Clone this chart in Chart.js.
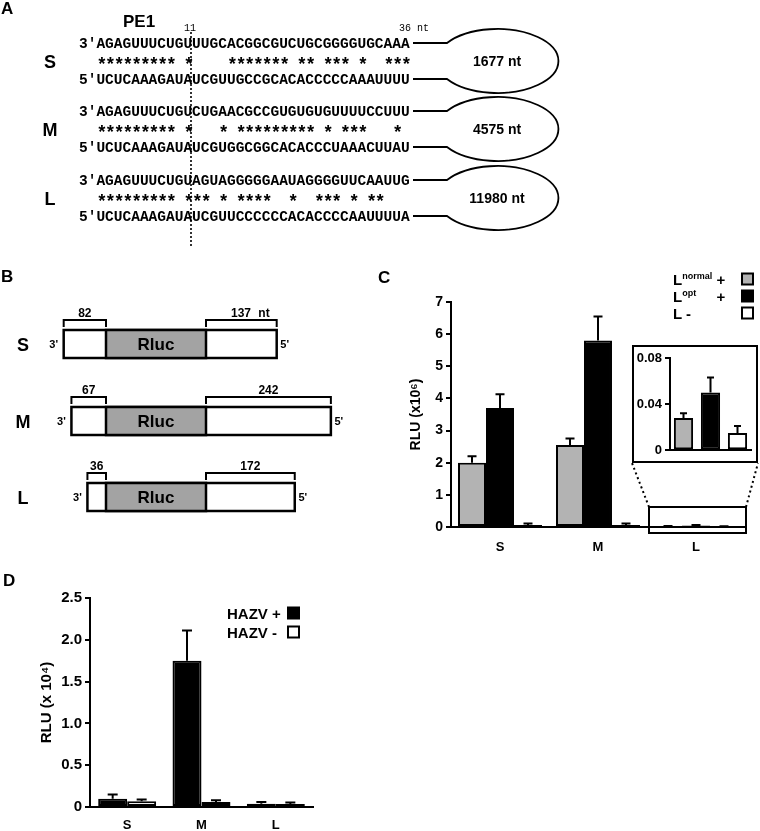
<!DOCTYPE html>
<html>
<head>
<meta charset="utf-8">
<script src="https://cdn.jsdelivr.net/npm/chart.js@4.4.1/dist/chart.umd.min.js"></script>
<style>
  body { margin: 0; background: #fff; }
  #page { position: relative; width: 760px; height: 831px; overflow: hidden; }
  canvas, #inset, #overlay { position: absolute; }
  #mainC { left: 370px; top: 260px; z-index: 1; }
  #inset { left: 632px; top: 345px; width: 126px; height: 118px; box-sizing: border-box;
           border: 2px solid #000; background: #fff; z-index: 2; }
  #inset canvas { left: 0; top: 0; }
  #chartD { left: 0; top: 575px; z-index: 1; }
  #overlay { left: 0; top: 0; z-index: 3; pointer-events: none; }
  #overlay text { font-family: "Liberation Sans", Arial, sans-serif; font-weight: bold; fill: #000; }
  #overlay .mono { font-family: "Liberation Mono", monospace; font-size: 14.5px; white-space: pre; }
  #overlay .stars { font-family: "Liberation Mono", monospace; font-size: 18px; letter-spacing: -2.1px; white-space: pre; }
  #overlay .small { font-family: "Liberation Mono", monospace; font-weight: normal; font-size: 10px; }
</style>
</head>
<body>
<div id="page">
  <canvas id="mainC" width="390" height="310"></canvas>
  <div id="inset"><canvas id="insetC" width="122" height="114"></canvas></div>
  <canvas id="chartD" width="360" height="256"></canvas>
  <svg id="overlay" width="760" height="831"></svg>
</div>
<script>
// Panel A: terminal sequences of the three segments
const segments = ["S", "M", "L"];
const strand3 = [
    "AGAGUUUCUGUUUGCACGGCGUCUGCGGGGUGCAAA",
    "AGAGUUUCUGUCUGAACGCCGUGUGUGUUUUCCUUU",
    "AGAGUUUCUGUAGUAGGGGGAAUAGGGGUUCAAUUG"
];
const strand5 = [
    "UCUCAAAGAUAUCGUUGCCGCACACCCCCAAAUUUU",
    "UCUCAAAGAUAUCGUGGCGGCACACCCUAAACUUAU",
    "UCUCAAAGAUAUCGUUCCCCCCACACCCCAAUUUUA"
];
const pairStars = [
    "********* *    ******* ** *** *  ***",
    "********* *   * ********* * ***   * ",
    "********* *** * ****  *  *** * **   "
];
const segmentLength = ["1677 nt", "4575 nt", "11980 nt"];

// Panel B: UTR lengths of the reporter constructs
const utr3 = [82, 67, 36];
const utr5 = [137, 242, 172];

// Panel C: RLU (x10^6)
const categories = ["S", "M", "L"];
const lNormalPlus = [2.0, 2.55, 0.028];
const lNormalErr = [0.2, 0.2, 0.004];
const lOptPlus = [3.7, 5.8, 0.05];
const lOptErr = [0.43, 0.75, 0.013];
const lMinus = [0.06, 0.06, 0.015];
const lMinusErr = [0.05, 0.05, 0.006];
const legendSupC = ["normal", "opt", ""];
const legendSignC = ["+", "+", "-"];

// Panel D: RLU (x 10^4)
const hazvPlus = [0.1, 1.75, 0.04];
const hazvPlusErr = [0.05, 0.36, 0.02];
const hazvMinus = [0.07, 0.06, 0.035];
const hazvMinusErr = [0.02, 0.02, 0.02];
const legendD = ["HAZV +", "HAZV -"];

const GRAY = "#b3b3b3";
Chart.defaults.font.family = '"Liberation Sans", Arial, sans-serif';
Chart.defaults.color = "#000";

// barres d'erreur (seulement vers le haut)
const errorBars = {
    id: "errorBars",
    afterDatasetsDraw(chart, args, opts) {
        const ctx = chart.ctx;
        const y = chart.scales.y;
        chart.data.datasets.forEach((ds, i) => {
            chart.getDatasetMeta(i).data.forEach((bar, j) => {
                const top = y.getPixelForValue(ds.data[j] + ds.errors[j]);
                ctx.save();
                ctx.strokeStyle = "#000";
                ctx.lineWidth = 2;
                ctx.beginPath();
                ctx.moveTo(bar.x, bar.y);
                ctx.lineTo(bar.x, top);
                ctx.moveTo(bar.x - opts.cap, top);
                ctx.lineTo(bar.x + opts.cap, top);
                ctx.stroke();
                ctx.restore();
            });
        });
    }
};

// boite autour du groupe L + lignes pointillées vers l'encart
const zoomBox = {
    id: "zoomBox",
    afterDraw(chart) {
        const { ctx, scales: { x, y } } = chart;
        const cx = x.getPixelForValue(2);
        const half = (x.getPixelForValue(1) - x.getPixelForValue(0)) / 2;
        const l = cx - half + 2, r = cx + half + 1;
        const t = y.getPixelForValue(0) - 20, b = y.getPixelForValue(0) + 6;
        ctx.save();
        ctx.strokeStyle = "#000";
        ctx.lineWidth = 2;
        ctx.strokeRect(l, t, r - l, b - t);
        ctx.setLineDash([2, 3]);
        ctx.beginPath();
        ctx.moveTo(l, t); ctx.lineTo(632 - 370, 463 - 260);
        ctx.moveTo(r, t); ctx.lineTo(758 - 370, 463 - 260);
        ctx.stroke();
        ctx.restore();
    }
};

function barSet(label, data, errors, color) {
    return {
        label, data, errors,
        backgroundColor: color,
        borderColor: "#000",
        borderWidth: 2,
        borderSkipped: false
    };
}

function axisY(min, max, step, fontSize, title, width, fmt) {
    return {
        min, max,
        ticks: { stepSize: step, font: { size: fontSize, weight: "bold" }, padding: 3, callback: fmt },
        grid: { display: true, drawOnChartArea: false, drawTicks: true, tickLength: 5, color: "#000", lineWidth: 2 },
        border: { display: true, color: "#000", width: 2 },
        title: title ? { display: true, text: title, font: { size: fontSize, weight: "bold" }, padding: { top: 38, bottom: 0 } } : { display: false },
        afterFit: s => { s.width = width; }
    };
}

function axisX(height, pad, show) {
    return {
        grid: { display: false, drawTicks: false },
        border: { display: true, color: "#000", width: 2 },
        ticks: { display: show, font: { size: 13, weight: "bold" }, padding: pad },
        afterFit: s => { s.height = height; }
    };
}

// Panel C principal
new Chart(document.getElementById("mainC"), {
    type: "bar",
    data: {
        labels: categories,
        datasets: [
            barSet("Lnormal +", lNormalPlus, lNormalErr, GRAY),
            barSet("Lopt +", lOptPlus, lOptErr, "#000"),
            barSet("L -", lMinus, lMinusErr, "#fff")
        ]
    },
    options: {
        responsive: false, animation: false, devicePixelRatio: 1,
        layout: { padding: { top: 42, right: 15, left: 0, bottom: 0 } },
        datasets: { bar: { categoryPercentage: 0.857, barPercentage: 1 } },
        plugins: { legend: { display: false }, tooltip: { enabled: false }, errorBars: { cap: 4.5 } },
        scales: {
            x: axisX(43, 13, true),
            y: axisY(0, 7, 1, 14, "RLU (x10⁶)", 81, v => String(v))
        }
    },
    plugins: [errorBars, zoomBox]
});

// Encart: groupe L agrandi
new Chart(document.getElementById("insetC"), {
    type: "bar",
    data: {
        labels: [categories[2]],
        datasets: [
            barSet("Lnormal +", [lNormalPlus[2]], [lNormalErr[2]], GRAY),
            barSet("Lopt +", [lOptPlus[2]], [lOptErr[2]], "#000"),
            barSet("L -", [lMinus[2]], [lMinusErr[2]], "#fff")
        ]
    },
    options: {
        responsive: false, animation: false, devicePixelRatio: 1,
        layout: { padding: { top: 11, right: 5, left: 0, bottom: 0 } },
        datasets: { bar: { categoryPercentage: 1, barPercentage: 0.71 } },
        plugins: { legend: { display: false }, tooltip: { enabled: false }, errorBars: { cap: 3.5 } },
        scales: {
            x: axisX(10, 0, false),
            y: axisY(0, 0.08, 0.04, 13, null, 36, v => v === 0 ? "0" : v.toFixed(2))
        }
    },
    plugins: [errorBars]
});

// Panel D
new Chart(document.getElementById("chartD"), {
    type: "bar",
    data: {
        labels: categories,
        datasets: [
            barSet(legendD[0], hazvPlus, hazvPlusErr, "#000"),
            barSet(legendD[1], hazvMinus, hazvMinusErr, "#fff")
        ]
    },
    options: {
        responsive: false, animation: false, devicePixelRatio: 1,
        layout: { padding: { top: 23, right: 47, left: 0, bottom: 0 } },
        datasets: { bar: { categoryPercentage: 0.78, barPercentage: 1 } },
        plugins: { legend: { display: false }, tooltip: { enabled: false }, errorBars: { cap: 5 } },
        scales: {
            x: axisX(24, 11, true),
            y: axisY(0, 2.5, 0.5, 15, "RLU (x 10⁴)", 90, v => v === 0 ? "0" : v.toFixed(1))
        }
    },
    plugins: [errorBars]
});

// Panneaux A et B + légendes (SVG)
let svg = "";
const txt = (x, y, s, size, extra = "") =>
    `<text x="${x}" y="${y}" font-size="${size}" ${extra}>${s}</text>`;

svg += txt(1, 14, "A", 17);
svg += txt(123, 27, "PE1", 17);
svg += `<text x="184" y="31" class="small">11</text>`;
svg += `<text x="399" y="31" class="small">36 nt</text>`;
svg += `<line x1="191" y1="32" x2="191" y2="247" stroke="#000" stroke-width="1.6" stroke-dasharray="2 2"/>`;

const seqRowY = [43, 111, 180];
segments.forEach((name, i) => {
    const y0 = seqRowY[i];
    svg += txt(50, y0 + 24.5, name, 18, 'text-anchor="middle"');
    svg += `<text x="79" y="${y0 + 4.5}" class="mono" xml:space="preserve">3'${strand3[i]}</text>`;
    svg += `<text x="79" y="${y0 + 26.5}" class="stars" xml:space="preserve">  ${pairStars[i]}</text>`;
    svg += `<text x="79" y="${y0 + 40.5}" class="mono" xml:space="preserve">5'${strand5[i]}</text>`;
    svg += `<path d="M413 ${y0} L447 ${y0} A61 32 0 1 1 447 ${y0 + 36} L413 ${y0 + 36}" fill="none" stroke="#000" stroke-width="1.8"/>`;
    svg += txt(497, y0 + 23, segmentLength[i], 14, 'text-anchor="middle"');
});

svg += txt(1, 282, "B", 17);
const boxTopY = [330, 407, 483];
const ntScale = 0.516, rlucL = 106, rlucR = 206;
segments.forEach((name, i) => {
    const t = boxTopY[i];
    const l = rlucL - utr3[i] * ntScale, r = rlucR + utr5[i] * ntScale;
    svg += txt(23, t + 20.5, name, 18, 'text-anchor="middle"');
    svg += `<rect x="${l}" y="${t}" width="${r - l}" height="28" fill="#fff" stroke="#000" stroke-width="2.5"/>`;
    svg += `<rect x="${rlucL}" y="${t}" width="${rlucR - rlucL}" height="28" fill="#a3a3a3" stroke="#000" stroke-width="2.5"/>`;
    svg += txt((rlucL + rlucR) / 2, t + 20, "Rluc", 17, 'text-anchor="middle"');
    svg += txt(l - 10, t + 18, "3'", 11, 'text-anchor="middle"');
    svg += txt(r + 8, t + 18, "5'", 11, 'text-anchor="middle"');
    const bt = t - 10, bb = t - 3;
    svg += `<path d="M${l} ${bb} L${l} ${bt} L${rlucL} ${bt} L${rlucL} ${bb} M${rlucR} ${bb} L${rlucR} ${bt} L${r} ${bt} L${r} ${bb}" fill="none" stroke="#000" stroke-width="2"/>`;
    svg += txt((l + rlucL) / 2, t - 13, String(utr3[i]), 12, 'text-anchor="middle"');
    if (i === 0) {
        svg += txt(241, t - 13, String(utr5[i]), 12, 'text-anchor="middle"');
        svg += txt(264, t - 13, "nt", 12, 'text-anchor="middle"');
    } else {
        svg += txt((rlucR + r) / 2, t - 13, String(utr5[i]), 12, 'text-anchor="middle"');
    }
});

// légende C
svg += txt(378, 283, "C", 17);
const legendRowC = [279, 296, 313];
const legendFillC = [GRAY, "#000", "#fff"];
legendSupC.forEach((sup, i) => {
    const y = legendRowC[i];
    if (sup) {
        svg += `<text x="673" y="${y + 5.5}" font-size="15">L<tspan font-size="9" dy="-6">${sup}</tspan></text>`;
        svg += txt(721, y + 5.5, legendSignC[i], 15, 'text-anchor="middle"');
    } else {
        svg += `<text x="673" y="${y + 5.5}" font-size="15" xml:space="preserve">L ${legendSignC[i]}</text>`;
    }
    svg += `<rect x="742" y="${y - 5.5}" width="11" height="11" fill="${legendFillC[i]}" stroke="#000" stroke-width="2"/>`;
});

// légende D
svg += txt(3, 586, "D", 17);
const legendRowD = [613, 632];
const legendFillD = ["#000", "#fff"];
legendD.forEach((s, i) => {
    const y = legendRowD[i];
    svg += `<text x="227" y="${y + 5.5}" font-size="15" xml:space="preserve">${s}</text>`;
    svg += `<rect x="288" y="${y - 5.5}" width="11" height="11" fill="${legendFillD[i]}" stroke="#000" stroke-width="2"/>`;
});

document.getElementById("overlay").innerHTML = svg;
</script>
</body>
</html>
